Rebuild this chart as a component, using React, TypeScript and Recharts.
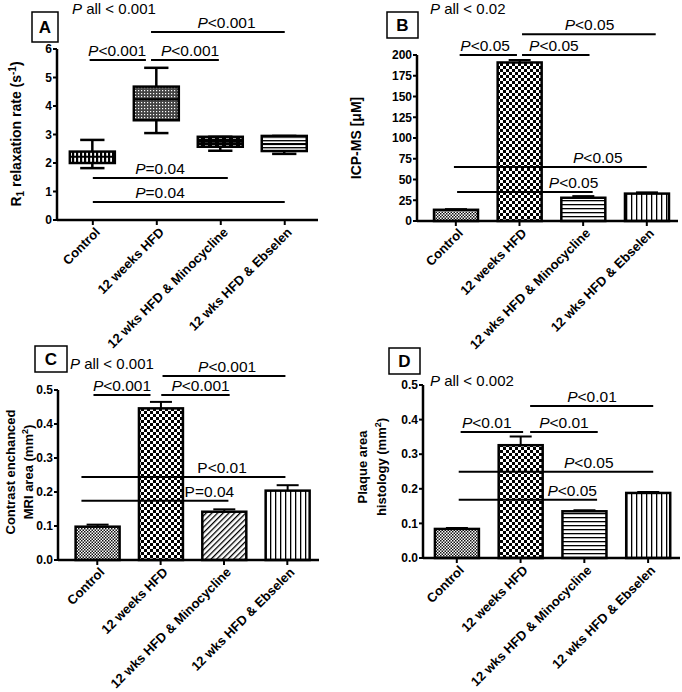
import React from 'react';
import { ComposedChart, Bar, XAxis, YAxis, ReferenceLine } from 'recharts';

const groups = ['Control', '12 weeks HFD', '12 wks HFD & Minocycline', '12 wks HFD & Ebselen'];

// A - R1 relaxation rate, box and whiskers
const r1Min = [1.82, 3.05, 2.43, 2.32];
const r1Q1 = [2.0, 3.5, 2.57, 2.42];
const r1Median = [2.22, 4.24, 2.75, 2.67];
const r1Q3 = [2.4, 4.68, 2.92, 2.95];
const r1Max = [2.81, 5.34, 2.92, 2.95];

// B - ICP-MS (uM)
const icpMean = [13.5, 191, 28, 33];
const icpSem = [0.8, 3, 2, 1.5];

// C - contrast enhanced MRI area (mm2)
const mriMean = [0.098, 0.446, 0.142, 0.204];
const mriSem = [0.006, 0.019, 0.007, 0.016];

// D - plaque area histology (mm2)
const histoMean = [0.084, 0.326, 0.135, 0.188];
const histoSem = [0.003, 0.025, 0.003, 0.003];

// significance bars: [from group, to group, value, text, text centre, italic P]
type Sig = [number, number, number, string, number, boolean];
const sigA: Sig[] = [
  [-0.05, 0.83, 5.61, 'P<0.001', 0.38, true],
  [0.91, 1.97, 5.61, 'P<0.001', 1.52, true],
  [0.91, 3.0, 6.6, 'P<0.001', 2.09, true],
  [0.0, 2.11, 1.47, 'P=0.04', 1.05, true],
  [0.0, 3.0, 0.63, 'P=0.04', 1.05, true],
];
const sigB: Sig[] = [
  [0.06, 0.96, 200, 'P<0.05', 0.46, true],
  [1.04, 2.1, 200, 'P<0.05', 1.54, true],
  [1.04, 3.14, 225, 'P<0.05', 2.1, true],
  [-0.03, 3.0, 65, 'P<0.05', 2.23, true],
  [0.02, 2.15, 35, 'P<0.05', 1.85, true],
];
const sigC: Sig[] = [
  [-0.06, 0.84, 0.485, 'P<0.001', 0.39, true],
  [1.01, 2.09, 0.485, 'P<0.001', 1.63, true],
  [1.03, 2.97, 0.541, 'P<0.001', 2.05, true],
  [-0.25, 2.97, 0.244, 'P<0.01', 1.97, false],
  [-0.25, 2.07, 0.174, 'P=0.04', 1.77, false],
];
const sigD: Sig[] = [
  [0.06, 1.04, 0.364, 'P<0.01', 0.47, true],
  [1.15, 2.21, 0.364, 'P<0.01', 1.68, true],
  [1.15, 3.08, 0.439, 'P<0.01', 2.12, true],
  [0.03, 3.08, 0.249, 'P<0.05', 2.07, true],
  [0.03, 2.2, 0.168, 'P<0.05', 1.81, true],
];

const fillsA = ['url(#aCtrl)', 'url(#aHfd)', 'url(#aMino)', 'url(#aEbs)'];
const fillsB = ['url(#pFine)', 'url(#pCheck)', 'url(#pH)', 'url(#pV)'];
const fillsC = ['url(#pFine)', 'url(#pCheck)', 'url(#pDiag)', 'url(#pV)'];
const fillsD = ['url(#pFine)', 'url(#pCheck)', 'url(#pH)', 'url(#pV)'];

const rowsA = groups.map((g, i) => ({ i, name: g, min: r1Min[i], q1: r1Q1[i], median: r1Median[i], q3: r1Q3[i], max: r1Max[i], fill: fillsA[i] }));
const rowsB = groups.map((g, i) => ({ i, name: g, mean: icpMean[i], sem: icpSem[i], fill: fillsB[i] }));
const rowsC = groups.map((g, i) => ({ i, name: g, mean: mriMean[i], sem: mriSem[i], fill: fillsC[i] }));
const rowsD = groups.map((g, i) => ({ i, name: g, mean: histoMean[i], sem: histoSem[i], fill: fillsD[i] }));

const axisLine = { stroke: '#000', strokeWidth: 2.5 };
const tickLine = { stroke: '#000', strokeWidth: 2 };

const GroupTick = ({ x, y, payload }: any) => {
  const ax = x + 8;
  const ay = y + 6;
  return (
    <text x={ax} y={ay} transform={`rotate(-45 ${ax} ${ay})`} textAnchor="end" fontSize={13} fontWeight={700} fill="#000">
      {groups[payload.value]}
    </text>
  );
};

const MeanBar = (p: any) => {
  const { x, y, width, height, payload } = p;
  const perUnit = payload.mean ? height / payload.mean : 0;
  const errTop = y - payload.sem * perUnit;
  const cx = x + width / 2;
  return (
    <g>
      <rect x={x} y={y} width={width} height={height} fill={payload.fill} stroke="#000" strokeWidth={2.5} />
      <line x1={cx} x2={cx} y1={y} y2={errTop} stroke="#000" strokeWidth={2} />
      <line x1={cx - width / 4} x2={cx + width / 4} y1={errTop} y2={errTop} stroke="#000" strokeWidth={2} />
    </g>
  );
};

const BoxShape = (p: any) => {
  const { x, y, width, height, payload } = p;
  const top = Math.min(y, y + height);
  const h = Math.abs(height);
  const span = payload.max - payload.min;
  const k = span > 0 ? h / span : 0;
  const py = (v: number) => top + (payload.max - v) * k;
  const cx = x + width / 2;
  const cap = width * 0.27;
  return (
    <g stroke="#000" strokeWidth={2.5}>
      <line x1={cx} x2={cx} y1={py(payload.max)} y2={py(payload.min)} />
      <line x1={cx - cap} x2={cx + cap} y1={py(payload.max)} y2={py(payload.max)} />
      <line x1={cx - cap} x2={cx + cap} y1={py(payload.min)} y2={py(payload.min)} />
      <rect x={x} y={py(payload.q3)} width={width} height={py(payload.q1) - py(payload.q3)} fill={payload.fill} />
      <line x1={x} x2={x + width} y1={py(payload.median)} y2={py(payload.median)} strokeWidth={2} />
    </g>
  );
};

const sigLabel = (b: Sig) => (p: any) => {
  const vb = p.viewBox;
  const cx = vb.x + ((b[4] - b[0]) / (b[1] - b[0])) * vb.width;
  return (
    <text x={cx} y={vb.y - 4} textAnchor="middle" fontSize={15.5} fill="#000">
      {b[5] ? <tspan fontStyle="italic">P</tspan> : 'P'}
      {b[3].slice(1)}
    </text>
  );
};

type PanelProps = {
  left: number;
  top: number;
  height: number;
  rows: any[];
  xDomain: [number, number];
  yDomain: [number, number];
  yTicks: number[];
  yWidth: number;
  xHeight: number;
  marginTop: number;
  marginRight: number;
  sig: Sig[];
  boxes?: boolean;
  fmt?: (v: number) => string;
};

function Panel(p: PanelProps) {
  return (
    <div style={{ position: 'absolute', left: p.left, top: p.top }}>
      <ComposedChart width={341} height={p.height} data={p.rows} margin={{ top: p.marginTop, right: p.marginRight, left: 0, bottom: 0 }}>
        <XAxis
          type="number"
          dataKey="i"
          domain={p.xDomain}
          ticks={[0, 1, 2, 3]}
          interval={0}
          allowDataOverflow
          height={p.xHeight}
          tick={<GroupTick />}
          tickSize={5}
          axisLine={axisLine}
          tickLine={tickLine}
        />
        <YAxis
          type="number"
          domain={p.yDomain}
          ticks={p.yTicks}
          interval={0}
          width={p.yWidth}
          tickSize={4}
          tickMargin={1}
          tickFormatter={p.fmt}
          tick={{ fill: '#000', fontSize: 12, fontWeight: 700 }}
          axisLine={axisLine}
          tickLine={tickLine}
        />
        {p.boxes ? (
          <Bar dataKey={(d: any) => [d.min, d.max]} barSize={45} shape={(s: any) => <BoxShape {...s} />} isAnimationActive={false} />
        ) : (
          <Bar dataKey="mean" barSize={44} shape={(s: any) => <MeanBar {...s} />} isAnimationActive={false} />
        )}
        {p.sig.map((b, k) => (
          <ReferenceLine
            key={k}
            segment={[{ x: b[0], y: b[2] }, { x: b[1], y: b[2] }]}
            stroke="#000"
            strokeWidth={2}
            ifOverflow="visible"
            label={sigLabel(b)}
          />
        ))}
      </ComposedChart>
    </div>
  );
}

const dec1 = (v: number) => v.toFixed(1);

const PanelTag = ({ x, y, w, h, letter }: { x: number; y: number; w: number; h: number; letter: string }) => (
  <g>
    <rect x={x} y={y} width={w} height={h} fill="#fff" stroke="#000" strokeWidth={1.5} />
    <text x={x + w / 2} y={y + h / 2 + 6} textAnchor="middle" fontSize={17} fontWeight={700} fill="#000">
      {letter}
    </text>
  </g>
);

const PAll = ({ x, y, text }: { x: number; y: number; text: string }) => (
  <text x={x} y={y} fontSize={15} fill="#000">
    <tspan fontStyle="italic">P</tspan>
    {text}
  </text>
);

export default function App() {
  return (
    <div style={{ position: 'absolute', left: 0, top: 0, width: 682, height: 692, background: '#fff', fontFamily: '"Liberation Sans", Arial, sans-serif' }}>
      <svg width={0} height={0} style={{ position: 'absolute' }}>
        <defs>
          <pattern id="pCheck" width={6} height={6} patternUnits="userSpaceOnUse">
            <rect width={6} height={6} fill="#fff" />
            <rect width={3} height={3} fill="#000" />
            <rect x={3} y={3} width={3} height={3} fill="#000" />
          </pattern>
          <pattern id="pFine" width={3} height={3} patternUnits="userSpaceOnUse">
            <rect width={3} height={3} fill="#fff" />
            <rect width={1.5} height={1.5} fill="#111" />
            <rect x={1.5} y={1.5} width={1.5} height={1.5} fill="#111" />
          </pattern>
          <pattern id="pH" width={4} height={4} patternUnits="userSpaceOnUse">
            <rect width={4} height={4} fill="#fff" />
            <rect width={4} height={1.3} fill="#000" />
          </pattern>
          <pattern id="pV" width={5} height={5} patternUnits="userSpaceOnUse">
            <rect width={5} height={5} fill="#fff" />
            <rect width={1.3} height={5} fill="#000" />
          </pattern>
          <pattern id="pDiag" width={4} height={4} patternUnits="userSpaceOnUse" patternTransform="rotate(45)">
            <rect width={4} height={4} fill="#fff" />
            <rect width={1.3} height={4} fill="#000" />
          </pattern>
          <pattern id="aCtrl" width={4} height={4} patternUnits="userSpaceOnUse">
            <rect width={4} height={4} fill="#fff" />
            <rect width={2.2} height={4} fill="#000" />
          </pattern>
          <pattern id="aHfd" width={3} height={3} patternUnits="userSpaceOnUse">
            <rect width={3} height={3} fill="#444" />
            <rect width={1.2} height={1.2} fill="#fff" />
          </pattern>
          <pattern id="aMino" width={7} height={4} patternUnits="userSpaceOnUse">
            <rect width={7} height={4} fill="#000" />
            <rect x={2} y={1} width={3} height={1.6} fill="#fff" />
          </pattern>
          <pattern id="aEbs" width={4} height={3.5} patternUnits="userSpaceOnUse">
            <rect width={4} height={3.5} fill="#fff" />
            <rect width={4} height={1.3} fill="#000" />
          </pattern>
        </defs>
      </svg>

      <Panel left={0} top={0} height={355} rows={rowsA} xDomain={[-0.56, 3.52]} yDomain={[0, 6]} yTicks={[0, 1, 2, 3, 4, 5, 6]} yWidth={57} xHeight={135} marginTop={49} marginRight={23} sig={sigA} boxes />
      <Panel left={341} top={0} height={355} rows={rowsB} xDomain={[-0.61, 3.49]} yDomain={[0, 200]} yTicks={[0, 25, 50, 75, 100, 125, 150, 175, 200]} yWidth={76} xHeight={134} marginTop={55} marginRight={4} sig={sigB} />
      <Panel left={0} top={345} height={347} rows={rowsC} xDomain={[-0.62, 3.5]} yDomain={[0, 0.5]} yTicks={[0, 0.1, 0.2, 0.3, 0.4, 0.5]} yWidth={58} xHeight={132} marginTop={45} marginRight={22} sig={sigC} fmt={dec1} />
      <Panel left={341} top={345} height={347} rows={rowsD} xDomain={[-0.53, 3.5]} yDomain={[0, 0.5]} yTicks={[0, 0.1, 0.2, 0.3, 0.4, 0.5]} yWidth={82} xHeight={134} marginTop={40} marginRight={2} sig={sigD} fmt={dec1} />

      <svg width={682} height={692} style={{ position: 'absolute', left: 0, top: 0, pointerEvents: 'none' }}>
        <PanelTag x={32} y={12} w={26} h={30} letter="A" />
        <PanelTag x={387} y={12} w={31} h={26} letter="B" />
        <PanelTag x={35} y={346} w={32} h={26} letter="C" />
        <PanelTag x={389} y={348} w={31} h={26} letter="D" />
        <PAll x={72} y={14} text=" all < 0.001" />
        <PAll x={430} y={14} text=" all < 0.02" />
        <PAll x={70} y={369} text=" all < 0.001" />
        <PAll x={430} y={386} text=" all < 0.002" />

        <text transform="translate(21 134) rotate(-90)" textAnchor="middle" fontSize={14} fontWeight={700} fill="#000">
          R<tspan fontSize={10} dy={3}>1</tspan>
          <tspan dy={-3}> relaxation rate (s</tspan>
          <tspan fontSize={10} dy={-5}>-1</tspan>
          <tspan dy={5}>)</tspan>
        </text>
        <text transform="translate(361 138) rotate(-90)" textAnchor="middle" fontSize={14} fontWeight={700} fill="#000">
          ICP-MS [μM]
        </text>
        <text transform="translate(15 472) rotate(-90)" textAnchor="middle" fontSize={13} fontWeight={700} fill="#000">
          Contrast enchanced
        </text>
        <text transform="translate(33 472) rotate(-90)" textAnchor="middle" fontSize={13} fontWeight={700} fill="#000">
          MRI area (mm<tspan fontSize={9} dy={-5}>2</tspan>
          <tspan dy={5}>)</tspan>
        </text>
        <text transform="translate(367 467) rotate(-90)" textAnchor="middle" fontSize={13} fontWeight={700} fill="#000">
          Plaque area
        </text>
        <text transform="translate(386 467) rotate(-90)" textAnchor="middle" fontSize={13} fontWeight={700} fill="#000">
          histology (mm<tspan fontSize={9} dy={-5}>2</tspan>
          <tspan dy={5}>)</tspan>
        </text>
      </svg>
    </div>
  );
}
